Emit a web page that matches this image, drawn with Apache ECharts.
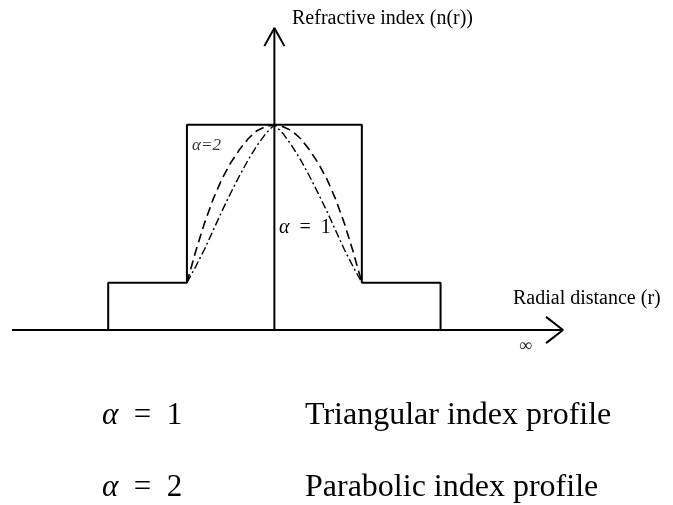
<!DOCTYPE html>
<html>
<head>
<meta charset="utf-8">
<script src="https://cdn.jsdelivr.net/npm/echarts@6/dist/echarts.min.js"></script>
<style>
  html, body { margin: 0; padding: 0; background: #fff; }
  #main { width: 673px; height: 505px; }
</style>
</head>
<body>
<div id="main"></div>
<script>
// radial distance r (core radius = 1), refractive index in arbitrary units
var coreR = 1, cladR = 1.9;
var nCore = 2.04, nClad = 0.47;

// step index profile (outline)
var stepProfile = [[-cladR, 0], [-cladR, nClad], [-coreR, nClad], [-coreR, nCore],
                   [coreR, nCore], [coreR, nClad], [cladR, nClad], [cladR, 0]];

// values
var rSamples = [-1, -0.9, -0.8, -0.7, -0.6, -0.5, -0.4, -0.3, -0.2, -0.1, 0,
                0.1, 0.2, 0.3, 0.4, 0.5, 0.6, 0.7, 0.8, 0.9, 1];
// alpha = 2
var parabolic = [0.47, 0.78, 1.06, 1.30, 1.50, 1.66, 1.79, 1.90, 1.98, 2.02, 2.04,
                 2.02, 1.98, 1.90, 1.79, 1.66, 1.50, 1.30, 1.06, 0.78, 0.47];
// alpha = 1
var triangular = [0.47, 0.63, 0.80, 0.99, 1.18, 1.36, 1.53, 1.69, 1.83, 1.95, 2.04,
                  1.95, 1.83, 1.69, 1.53, 1.36, 1.18, 0.99, 0.80, 0.63, 0.47];

// axes with open arrow heads
var xAxisLine = [[-3.0, 0], [3.3, 0]];
var xArrow = [[3.106, 0.13], [3.3, 0], [3.106, -0.13]];
var yAxisLine = [[0, 0], [0, 3.0]];
var yArrow = [[-0.115, 2.82], [0, 3.0], [0.115, 2.82]];

function pairs(xs, ys) {
    return xs.map(function (x, i) { return [x, ys[i]]; });
}

var serif = "'Liberation Serif', 'DejaVu Serif', serif";

function plainLine(data, width) {
    return {
        type: 'line', data: data, showSymbol: false, clip: false, silent: true,
        lineStyle: { color: '#000', width: width || 2 }
    };
}

function alphaText(num, size) {
    return {
        text: '{a|\u03b1}{b|\u2002=\u2002' + num + '}',
        rich: {
            a: { font: 'italic ' + size + 'px ' + serif, fill: '#000' },
            b: { font: size + 'px ' + serif, fill: '#000' }
        }
    };
}

var myChart = echarts.init(document.getElementById('main'));
var option = {
    backgroundColor: '#fff',
    animation: false,
    grid: { left: 12, right: 110, top: 28, bottom: 175 },
    xAxis: { type: 'value', min: -3.0, max: 3.3, show: false },
    yAxis: { type: 'value', min: 0, max: 3.0, show: false },
    series: [
        plainLine(xAxisLine, 2),
        plainLine(xArrow, 2),
        plainLine(yAxisLine, 2),
        plainLine(yArrow, 2),
        plainLine(stepProfile, 2),
        {
            name: 'alpha=2', type: 'line', data: pairs(rSamples, parabolic),
            showSymbol: false, clip: false, silent: true,
            lineStyle: { color: '#000', width: 1.6, type: [9, 5] }
        },
        {
            name: 'alpha=1', type: 'line', data: pairs(rSamples, triangular),
            showSymbol: false, clip: false, silent: true,
            lineStyle: { color: '#000', width: 1.4, type: [8, 3, 2, 3] }
        }
    ],
    graphic: [
        { type: 'text', left: 292, top: 9,
          style: { text: 'Refractive index (n(r))', font: '20px ' + serif, fill: '#000' } },
        { type: 'text', left: 513, top: 289,
          style: { text: 'Radial distance (r)', font: '20px ' + serif, fill: '#000' } },
        { type: 'text', left: 519, top: 337,
          style: { text: '\u221e', font: '18px ' + serif, fill: '#222' } },
        { type: 'text', left: 192, top: 137,
          style: { text: '\u03b1=2', font: 'italic 17px ' + serif, fill: '#333' } },
        { type: 'text', left: 279, top: 218, style: alphaText(1, 20) },
        { type: 'text', left: 102, top: 400, style: alphaText(1, 31) },
        { type: 'text', left: 305, top: 400,
          style: { text: 'Triangular index profile', font: '32px ' + serif, fill: '#000' } },
        { type: 'text', left: 102, top: 472, style: alphaText(2, 31) },
        { type: 'text', left: 305, top: 472,
          style: { text: 'Parabolic index profile', font: '32px ' + serif, fill: '#000' } }
    ]
};
myChart.setOption(option);
</script>
</body>
</html>
